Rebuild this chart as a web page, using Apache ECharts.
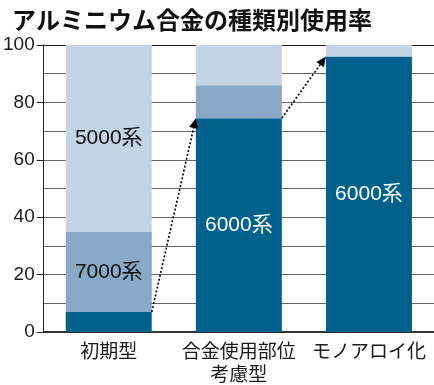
<!DOCTYPE html>
<html>
<head>
<meta charset="utf-8">
<script src="https://cdn.jsdelivr.net/npm/echarts@6/dist/echarts.min.js"></script>
<style>html,body{margin:0;padding:0;background:#fff}#c{width:434px;height:385px}</style>
</head>
<body>
<div id="c"></div>
<script>
const titleText = 'アルミニウム合金の種類別使用率';
const categories = ['初期型', '合金使用部位\n考慮型', 'モノアロイ化'];
const seriesNames = ['6000系', '7000系', '5000系'];
const values6000 = [7, 74.5, 96];
const values7000 = [28, 11.5, 0];
const values5000 = [65, 14, 4];
const showLabel6000 = [false, true, true];
const showLabel7000 = [true, false, false];
const showLabel5000 = [true, false, false];
const yTicks = [0, 20, 40, 60, 80, 100];

const colors = ['#00628C', '#88A9C5', '#C3D4E5'];
const labelColors = ['#fff', '#111', '#111'];
const BAR_W = 86;
const numFont = '"Liberation Sans", "Noto Sans CJK JP", sans-serif';
const cjkFont = '"Noto Sans CJK JP", sans-serif';

function makeData(vals, shows) {
  return vals.map((v, k) => ({
    value: v,
    label: { show: shows[k] }
  }));
}

const valueSets = [values6000, values7000, values5000];
const showSets = [showLabel6000, showLabel7000, showLabel5000];

const barSeries = seriesNames.map((name, i) => ({
  name: name,
  type: 'bar',
  stack: 'total',
  barWidth: BAR_W,
  itemStyle: { color: colors[i] },
  label: {
    position: 'inside',
    formatter: name,
    color: labelColors[i],
    fontSize: 21,
    fontFamily: numFont
  },
  emphasis: { disabled: true },
  data: makeData(valueSets[i], showSets[i])
}));

const arrowData = [];
for (let k = 0; k < values6000.length - 1; k++) {
  arrowData.push([k, values6000[k], values6000[k + 1]]);
}

const arrowSeries = {
  type: 'custom',
  z: 10,
  clip: false,
  silent: true,
  encode: { x: 0, y: [1, 2] },
  data: arrowData,
  renderItem: function (params, api) {
    const i = api.value(0);
    const p0 = api.coord([i, api.value(1)]);
    const p1 = api.coord([i + 1, api.value(2)]);
    const half = BAR_W / 2;
    const sx = p0[0] + half, sy = p0[1];
    const ex = p1[0] - half, ey = p1[1];
    const dx = ex - sx, dy = ey - sy;
    const len = Math.sqrt(dx * dx + dy * dy);
    const ux = dx / len, uy = dy / len;
    const headL = 10, headW = 4.5;
    const bx = ex - ux * headL, by = ey - uy * headL;
    const nx = -uy, ny = ux;
    return {
      type: 'group',
      children: [
        {
          type: 'line',
          shape: { x1: sx, y1: sy, x2: bx, y2: by },
          style: { stroke: '#000', lineWidth: 1.6, lineDash: [2, 2] }
        },
        {
          type: 'polygon',
          shape: { points: [[ex, ey], [bx + nx * headW, by + ny * headW], [bx - nx * headW, by - ny * headW]] },
          style: { fill: '#000' }
        }
      ]
    };
  }
};

const chart = echarts.init(document.getElementById('c'), null, { renderer: 'canvas' });
chart.setOption({
  animation: false,
  backgroundColor: '#fff',
  title: {
    text: titleText,
    left: 7,
    top: 3,
    textStyle: { fontSize: 24, fontWeight: 'bold', color: '#111', fontFamily: cjkFont }
  },
  grid: { left: 41, top: 45, width: 398, bottom: 50, containLabel: false },
  xAxis: {
    type: 'category',
    data: categories,
    axisLine: { show: true, lineStyle: { color: '#333', width: 2 } },
    axisTick: { show: false },
    axisLabel: {
      color: '#1a1a1a',
      fontSize: 19,
      lineHeight: 23,
      margin: 7,
      fontFamily: cjkFont,
      interval: 0
    }
  },
  yAxis: {
    type: 'value',
    min: yTicks[0],
    max: yTicks[yTicks.length - 1],
    interval: yTicks[1] - yTicks[0],
    axisLine: { show: true, lineStyle: { color: '#222', width: 1 } },
    axisTick: { show: true, inside: false, length: 7, lineStyle: { color: '#222', width: 1 } },
    axisLabel: { color: '#1a1a1a', fontSize: 19, margin: 9, fontFamily: numFont },
    splitLine: { show: true, lineStyle: { color: ['#333', '#666', '#666', '#666', '#666', '#222'], width: 1 } },
    minorTick: { show: false, splitNumber: 2 },
    minorSplitLine: { show: true, lineStyle: { color: '#666', width: 1 } }
  },
  series: barSeries.concat([arrowSeries])
});
</script>
</body>
</html>
